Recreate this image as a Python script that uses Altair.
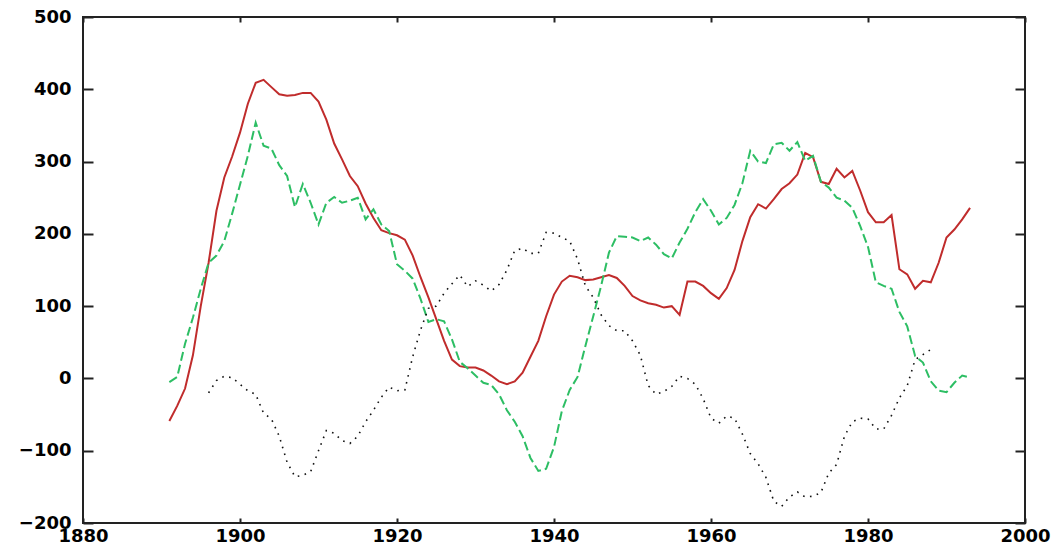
import altair as alt
import pandas as pd

# Annual series values
red_start = 1891
red_vals = [
    -59, -38, -14, 32, 100, 160, 232, 278, 307, 340,        # 1891-1900
    380, 409, 413, 403, 393, 391, 392, 395, 395, 383,       # 1901-1910
    358, 325, 303, 280, 266, 242, 222, 205, 201, 198,       # 1911-1920
    192, 170, 140, 112, 82, 52, 26, 17, 15, 15,             # 1921-1930
    11, 4, -4, -8, -4, 8, 30, 52, 86, 116,                  # 1931-1940
    134, 142, 140, 136, 137, 140, 143, 139, 128, 114,       # 1941-1950
    108, 104, 102, 98, 100, 88, 134, 134, 128, 118,         # 1951-1960
    110, 125, 150, 190, 223, 241, 235, 248, 262, 270,       # 1961-1970
    282, 312, 306, 272, 269, 290, 278, 287, 260, 230,       # 1971-1980
    216, 216, 226, 151, 144, 124, 135, 133, 160, 195,       # 1981-1990
    206, 220, 236,                                          # 1991-1993
]

green_start = 1891
green_vals = [
    -5, 2, 48, 84, 124, 160, 170, 190, 228, 268,            # 1891-1900
    308, 354, 322, 318, 295, 280, 237, 269, 243, 213,       # 1901-1910
    243, 251, 243, 246, 250, 220, 234, 213, 204, 158,       # 1911-1920
    149, 138, 110, 78, 82, 79, 54, 23, 14, 4,               # 1921-1930
    -6, -9, -22, -44, -60, -80, -110, -128, -125, -95,      # 1931-1940
    -45, -16, 2, 45, 86, 128, 174, 197, 196, 195,           # 1941-1950
    190, 195, 185, 172, 166, 188, 207, 230, 248, 232,       # 1951-1960
    213, 222, 240, 270, 315, 300, 298, 324, 326, 315,       # 1961-1970
    327, 301, 308, 272, 264, 250, 246, 236, 211, 182,       # 1971-1980
    133, 128, 124, 92, 72, 31, 22, -4, -17, -19,            # 1981-1990
    -6, 4, 1,                                               # 1991-1993
]

black_start = 1896
black_vals = [
    -20, -3, 3, 1, -8,                                      # 1896-1900
    -17, -22, -48, -56, -80, -116, -136, -134, -129, -100,  # 1901-1910
    -72, -76, -86, -90, -80, -60, -44, -26, -12, -17,       # 1911-1920
    -16, 30, 67, 97, 100, 118, 131, 143, 127, 135,          # 1921-1930
    129, 121, 130, 150, 177, 180, 173, 173, 202, 201,       # 1931-1940
    195, 190, 165, 128, 112, 88, 73, 66, 66, 52,            # 1941-1950
    32, -10, -22, -18, -11, 3, 0, -8, -28, -55,             # 1951-1960
    -62, -52, -55, -77, -104, -118, -137, -170, -177, -164, # 1961-1970
    -157, -164, -163, -158, -131, -119, -80, -60, -55, -56, # 1971-1980
    -70, -70, -51, -27, -10, 26, 33, 40,                    # 1981-1988
]

x_ticks = [1880, 1900, 1920, 1940, 1960, 1980, 2000]
y_ticks = [-200, -100, 0, 100, 200, 300, 400, 500]


def frame(start, vals):
    return pd.DataFrame({"year": [start + i for i in range(len(vals))], "value": vals})


red_df = frame(red_start, red_vals)
green_df = frame(green_start, green_vals)
black_df = frame(black_start, black_vals)

FONT = "DejaVu Sans"
INK = "#222222"

x_scale = alt.Scale(domain=[1880, 2000], nice=False, zero=False)
y_scale = alt.Scale(domain=[-200, 500], nice=False, zero=False)

label_style = dict(
    labelFont=FONT, labelFontWeight="bold", labelFontSize=18, labelColor="black",
    labelFlush=False, labelOverlap=False, labelBound=False,
)

# Ticks point inward: each axis is shifted into the plot by its tick length
x_bottom = alt.Axis(values=x_ticks, format="d", orient="bottom", offset=-5, tickSize=5,
                    tickWidth=2, tickColor=INK, domain=False, grid=False,
                    labelBaseline="alphabetic", labelPadding=18, title=None, **label_style)
y_left = alt.Axis(values=y_ticks, format="d", orient="left", offset=-10, tickSize=10,
                  tickWidth=2, tickColor=INK, domain=False, grid=False,
                  labelPadding=12, title=None, **label_style)
x_top = alt.Axis(values=x_ticks, orient="top", offset=-5, tickSize=5, tickWidth=2,
                 tickColor=INK, domain=False, grid=False, labels=False, title=None)
y_right = alt.Axis(values=y_ticks, orient="right", offset=-10, tickSize=10, tickWidth=2,
                   tickColor=INK, domain=False, grid=False, labels=False, title=None)

red = alt.Chart(red_df).mark_line(color="#c02c2c", strokeWidth=2).encode(
    x=alt.X("year:Q", scale=x_scale, axis=x_bottom),
    y=alt.Y("value:Q", scale=y_scale, axis=y_left),
)

green = alt.Chart(green_df).mark_line(
    color="#2dbe64", strokeWidth=2, strokeDash=[9, 4]
).encode(
    x=alt.X("year:Q", scale=x_scale, axis=None),
    y=alt.Y("value:Q", scale=y_scale, axis=None),
)

black = alt.Chart(black_df).mark_line(
    color="#111111", strokeWidth=1.6, strokeDash=[1.6, 5.5]
).encode(
    x=alt.X("year:Q", scale=x_scale, axis=None),
    y=alt.Y("value:Q", scale=y_scale, axis=None),
)

# Mirror ticks on the top and right borders
mirror = alt.Chart(red_df).mark_line(opacity=0).encode(
    x=alt.X("year:Q", scale=x_scale, axis=x_top),
    y=alt.Y("value:Q", scale=y_scale, axis=y_right),
)

chart = (
    alt.layer(red, green, black, mirror)
    .resolve_axis(x="independent", y="independent")
    .properties(
        width=942,
        height=506,
        autosize=alt.AutoSizeParams(type="none"),
        padding={"left": 83, "top": 17, "right": 32, "bottom": 23},
        background="white",
    )
    .configure_view(stroke=INK, strokeWidth=2)
)

chart.save("out.html", embed_options={"renderer": "svg", "actions": False})
